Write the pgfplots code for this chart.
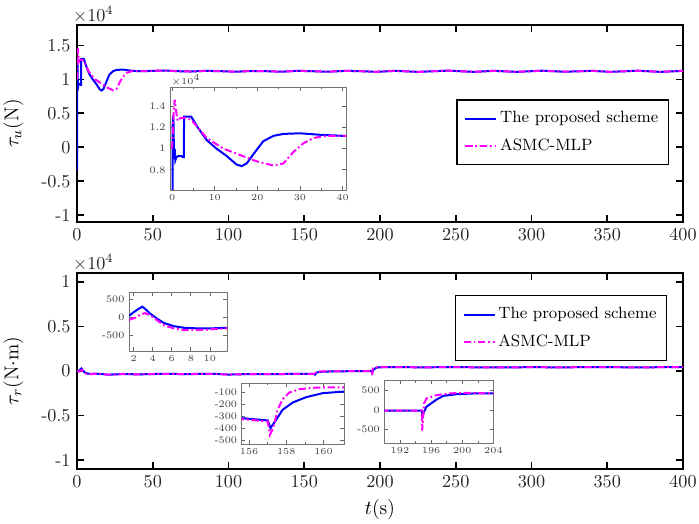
\documentclass[border=0pt]{standalone}
\usepackage{pgfplots}
\usepackage{pgfplotstable}
\pgfplotsset{compat=1.18}
\definecolor{myblue}{RGB}{0,0,255}
\definecolor{mymag}{RGB}{255,0,255}

\pgfplotstableread{
t v
0 -0.34
0.15 1.3
0.3 1.3
0.45 0.9
0.6 1.0
0.75 0.89
1.0 0.92
1.5 0.93
2.2 0.93
2.5 0.92
2.75 0.92
2.8 1.3
4.5 1.3
6 1.2
8.1 1.08
10.4 1.0
12.8 0.93
15.1 0.85
16.3 0.835
17.5 0.86
19.5 0.97
21.4 1.07
23.8 1.12
26.1 1.138
30 1.144
34.7 1.13
40 1.12
45 1.12
50 1.125
58 1.13
66 1.12
75 1.115
85 1.125
95 1.12
105 1.112
115 1.123
125 1.12
135 1.112
145 1.125
155 1.12
165 1.112
178 1.125
190 1.118
197 1.11
210 1.125
225 1.11
245 1.128
262 1.11
275 1.125
290 1.11
307 1.127
322 1.112
340 1.125
352 1.11
370 1.127
385 1.11
400 1.125
}\tuB

\pgfplotstableread{
t v
0 1.0
0.3 1.3
0.6 1.46
0.9 1.36
1.3 1.26
2.0 1.29
3.0 1.29
4.5 1.27
6 1.2
8.1 1.10
12 1.0
15.9 0.94
19.8 0.88
23.8 0.84
26.1 0.86
28.5 0.97
30.8 1.05
33.2 1.10
36.3 1.12
40 1.12
45 1.12
50 1.125
58 1.13
66 1.12
75 1.115
85 1.125
95 1.12
105 1.112
115 1.123
125 1.12
135 1.112
145 1.125
155 1.12
165 1.112
178 1.125
190 1.118
197 1.11
210 1.125
225 1.11
245 1.128
262 1.11
275 1.125
290 1.11
307 1.127
322 1.112
340 1.125
352 1.11
370 1.127
385 1.11
400 1.125
}\tuM

\pgfplotstableread{
t v
0 0
1 20
1.55 45
2 136
2.5 227
2.9 290
3.2 227
3.75 90
4.45 -45
5.15 -164
6.2 -255
7.26 -300
8.67 -318
10.07 -318
11.8 -300
15 -320
20 -400
25 -390
30 -330
40 -380
50 -340
60 -310
70 -350
80 -330
90 -310
100 -400
110 -360
120 -340
130 -350
140 -330
150 -310
155.6 -314
157.0 -333
157.15 -397
157.45 -328
157.8 -244
158.35 -183
159.05 -139
159.95 -105
161.07 -92
165 -60
170 -40
180 -25
190 -17
194.8 -17
194.9 -127
195.4 85
196.7 270
197.6 365
199.3 405
201.4 424
204 424
215 430
230 410
245 440
260 420
280 400
300 430
320 410
340 440
360 420
375 400
390 450
400 430
}\trB

\pgfplotstableread{
t v
0 0
1 -60
1.55 -73
2.2 -18
2.7 73
3.2 109
3.75 45
4.45 -91
5.15 -227
6.2 -318
7.26 -364
8.67 -364
10.07 -345
11.8 -318
15 -330
20 -410
25 -395
30 -340
40 -385
50 -345
60 -315
70 -355
80 -335
90 -315
100 -405
110 -365
120 -345
130 -355
140 -335
150 -318
155.6 -322
157.0 -342
157.12 -453
157.3 -397
157.53 -244
157.8 -156
158.15 -100
158.7 -72
159.6 -58
161.07 -56
165 -45
170 -30
180 -20
190 -17
194.8 -17
194.85 -525
195.1 170
195.4 296
196.7 380
198.3 424
200 440
204 424
215 430
230 410
245 440
260 420
280 400
300 430
320 410
340 440
360 420
375 400
390 450
400 430
}\trM

\pgfplotsset{
  mainax/.style={
    scale only axis, anchor=south west, width=333.3pt,
    xmin=0, xmax=400, xtick={0,50,...,400},
    scaled y ticks=false, scaled x ticks=false,
    tick align=inside, axis line style={line width=1.1pt},
    major tick style={line width=0.9pt, black}, major tick length=4pt,
    tick label style={font=\normalsize, text=black!85},
    label style={font=\fontsize{11}{13}\selectfont},
    ylabel style={xshift=0pt, yshift=3pt},
    legend style={font=\small, draw=black, line width=0.8pt, anchor=north east,
      inner xsep=4pt, inner ysep=5pt, row sep=4pt,
      nodes={inner sep=1.5pt}},
    legend cell align=left,
    after end axis/.append code={
      \node[anchor=south west, font=\normalsize, inner sep=1pt, text=black!85]
        at (rel axis cs:-0.01,1.0) {$\times10^4$};
    },
  },
  inax/.style={
    scale only axis, anchor=south west,
    scaled y ticks=false, scaled x ticks=false,
    tick align=inside, axis line style={line width=0.5pt, black!55},
    major tick style={line width=0.4pt, black!60}, major tick length=2pt,
    minor tick style={line width=0.3pt, black!60}, minor tick length=1.3pt,
    tick label style={font=\fontsize{5.5}{6}\selectfont, text=black!75},
    xticklabel style={yshift=1pt}, yticklabel style={xshift=1pt},
    axis background/.style={fill=white},
    clip=true,
  },
  bl/.style={color=myblue, line width=1.1pt},
  mg/.style={color=mymag, line width=1.1pt, dash pattern=on 4pt off 1.5pt on 1pt off 1.5pt},
}

\begin{document}
\begin{tikzpicture}
\useasboundingbox (0,0) rectangle (384.45pt,288.2pt);

% top main axis
\begin{axis}[mainax, at={(42.35pt,166.1pt)}, height=108.35pt,
  ymin=-1.1, ymax=1.8, ytick={-1,-0.5,0,0.5,1,1.5},
  yticklabels={-1,-0.5,0,0.5,1,1.5},
  ylabel={$\tau_u$(N)},
  legend style={at={(0.977,0.624)}},
]
\addplot[bl] table[x=t,y=v] {\tuB};
\addplot[mg] table[x=t,y=v] {\tuM};
\legend{The proposed scheme, ASMC-MLP}
\end{axis}

% top inset
\begin{axis}[inax, at={(93.5pt,183.7pt)}, width=96.8pt, height=56.65pt,
  xmin=-0.5, xmax=40.8, ymin=0.61, ymax=1.58,
  xtick={0,10,20,30,40}, minor x tick num=1,
  ytick={0.8,1,1.2,1.4}, yticklabels={0.8,1,1.2,1.4},
  after end axis/.append code={
    \node[anchor=south west, font=\fontsize{5}{6}\selectfont, inner sep=0.5pt, text=black!75]
      at (rel axis cs:0,1.0) {$\times10^4$};
  },
]
\addplot[bl] table[x=t,y=v] {\tuB};
\addplot[mg] table[x=t,y=v] {\tuM};
\end{axis}

% bottom main axis
\begin{axis}[mainax, at={(42.35pt,30.25pt)}, height=107.8pt,
  ymin=-11000, ymax=11000, ytick={-10000,-5000,0,5000,10000},
  yticklabels={-1,-0.5,0,0.5,1},
  ylabel={$\tau_r$(N$\cdot$m)}, xlabel={$t$(s)},
  legend style={at={(0.974,0.888)}},
]
\addplot[bl] table[x=t,y=v] {\trB};
\addplot[mg] table[x=t,y=v] {\trM};
\legend{The proposed scheme, ASMC-MLP}
\end{axis}

% bottom inset 1
\begin{axis}[inax, at={(70.95pt,95.15pt)}, width=53.9pt, height=32.45pt,
  xmin=1.5, xmax=11.8, ymin=-950, ymax=700,
  xtick={2,4,6,8,10}, ytick={-500,0,500}, yticklabels={-500,0,500},
]
\addplot[bl] table[x=t,y=v] {\trB};
\addplot[mg] table[x=t,y=v] {\trM};
\end{axis}

% bottom inset 2
\begin{axis}[inax, at={(132.9pt,44pt)}, width=56.3pt, height=33.55pt,
  xmin=155.6, xmax=161.1, ymin=-530, ymax=-20,
  xtick={156,158,160}, minor x tick num=1,
  ytick={-500,-400,-300,-200,-100}, yticklabels={-500,-400,-300,-200,-100},
]
\addplot[bl] table[x=t,y=v] {\trB};
\addplot[mg] table[x=t,y=v] {\trM};
\end{axis}

% bottom inset 3
\begin{axis}[inax, at={(211.4pt,44.4pt)}, width=60pt, height=34.4pt,
  xmin=190, xmax=204, ymin=-850, ymax=750,
  xtick={192,196,200,204}, minor xtick={194,198,202},
  ytick={-500,0,500}, yticklabels={-500,0,500},
]
\addplot[bl] table[x=t,y=v] {\trB};
\addplot[mg] table[x=t,y=v] {\trM};
\end{axis}
\end{tikzpicture}
\end{document}
